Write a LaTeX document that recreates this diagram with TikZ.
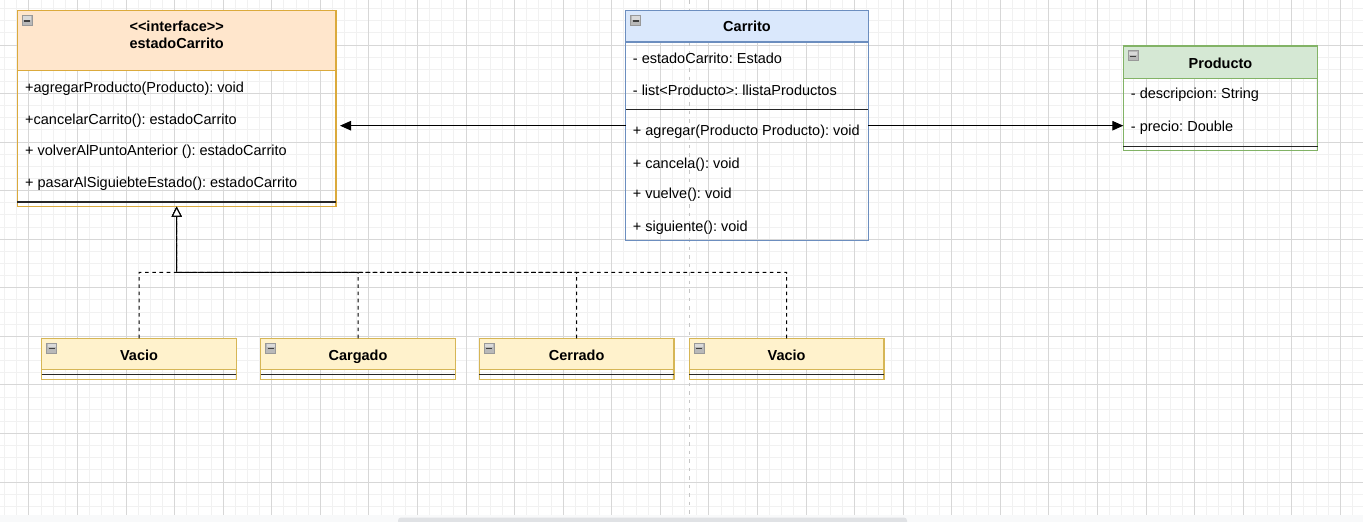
\documentclass[tikz,border=0pt]{standalone}
\usepackage{fontspec}
\setmainfont{Liberation Sans}
\usetikzlibrary{arrows.meta,calc}
\frenchspacing
\definecolor{orgFill}{HTML}{FFE6CC}
\definecolor{ylwFill}{HTML}{FFF2CC}
\definecolor{ylwLine}{HTML}{D6B656}
\definecolor{ifLine}{HTML}{DBAA3C}
\definecolor{bluFill}{HTML}{DAE8FC}
\definecolor{bluLine}{HTML}{6C8EBF}
\definecolor{grnFill}{HTML}{D5E8D4}
\definecolor{grnLine}{HTML}{82B366}
\definecolor{gridMinor}{HTML}{F1F1F1}
\definecolor{gridMajor}{HTML}{D7D7D7}
\definecolor{stripBg}{HTML}{F8F9FA}
\definecolor{scrollBar}{HTML}{E0E2E5}
\begin{document}
\begin{tikzpicture}[x=1pt,y=-1pt,
  font=\fontsize{14.5}{17}\selectfont,
  cls/.style={draw=#1, line width=1.2pt, anchor=north west, inner sep=0pt, outer sep=0pt, rectangle},
  row/.style={anchor=base west, inner sep=0pt},
  ttl/.style={font=\fontsize{14.5}{17}\selectfont\bfseries, anchor=base, inner sep=0pt},
  sepline/.style={line width=1.4pt, black!85},
  impl/.style={black, line width=1pt, dash pattern=on 3.6pt off 3.6pt, -{Triangle[open, length=10pt, width=10pt, fill=white, line width=1pt]}},
  assoc/.style={black, line width=1pt, -{Triangle[length=11pt, width=9.5pt]}},
  clsicon/.pic={
    \fill[gray!55] (0,0) rectangle (10,10);
    \fill[gray!30] (1,1) rectangle (9,4.5);
    \draw[gray!80, line width=0.6pt] (0,0) rectangle (10,10);
    \draw[black!75, line width=1.4pt] (2,5.6) -- (8,5.6);
  }
]
\useasboundingbox (0,0) rectangle (1363,522);
% background grid
\fill[white] (0,0) rectangle (1363,515);
\foreach \i in {-2,...,110} { \draw[gridMinor, line width=1pt] ({28.9+12.1425*\i},0) -- ({28.9+12.1425*\i},515); }
\foreach \j in {-3,...,38} { \draw[gridMinor, line width=1pt] (0,{45+12.1425*\j}) -- (1363,{45+12.1425*\j}); }
\foreach \i in {0,...,27} { \draw[gridMajor, line width=1pt] ({28.9+48.57*\i},0) -- ({28.9+48.57*\i},515); }
\foreach \j in {0,...,9} { \draw[gridMajor, line width=1pt] (0,{45+48.57*\j}) -- (1363,{45+48.57*\j}); }
\fill[stripBg] (0,515) rectangle (1363,522);
\fill[scrollBar, rounded corners=3pt] (398,517.5) rectangle (907,528);
% page break line
\draw[gray!45, line width=1pt, dash pattern=on 3.5pt off 5pt] (689,0) -- (689,515);

% ---- interface estadoCarrito
\fill[orgFill] (17.3,10.7) rectangle (336,70.7);
\node[cls=ifLine, minimum width=318.7pt, minimum height=196pt] (iface) at (17.3,10.7) {};
\draw[ifLine, line width=1.2pt] (17.3,70.7) -- (336,70.7);
\draw[sepline] (17.3,202) -- (336,202);
\pic at (22,15.3) {clsicon};
\node[ttl] (ifst) at (176.7,31) {\textless\kern0pt\textless\kern0pt interface\kern0pt\textgreater\kern0pt\textgreater};
\node[ttl] (ifname) at (176.7,48.5) {estadoCarrito};
\node[row] (ifm1) at (25,92) {+agregarProducto(Producto): void};
\node[row] (ifm2) at (25,124) {+cancelarCarrito(): estadoCarrito};
\node[row] (ifm3) at (25,155.3) {+ volverAlPuntoAnterior (): estadoCarrito};
\node[row] (ifm4) at (25,187) {+ pasarAlSiguiebteEstado(): estadoCarrito};

% ---- Carrito
\fill[bluFill] (625.5,10.7) rectangle (868.3,42);
\node[cls=bluLine, minimum width=242.8pt, minimum height=230pt] (carrito) at (625.5,10.7) {};
\draw[bluLine, line width=1.2pt] (625.5,42) -- (868.3,42);
\draw[sepline] (625.5,109.3) -- (868.3,109.3);
\pic at (630.5,15.3) {clsicon};
\node[ttl] (carname) at (747,31.5) {Carrito};
\node[row] (ca1) at (632.7,63.3) {- estadoCarrito: Estado};
\node[row] (ca2) at (632.7,95) {- list\textless Producto\textgreater: llistaProductos};
\node[row] (cm1) at (632.7,135.7) {+ agregar(Producto Producto): void};
\node[row] (cm2) at (632.7,168.3) {+ cancela(): void};
\node[row] (cm3) at (632.7,198.5) {+ vuelve(): void};
\node[row] (cm4) at (632.7,231) {+ siguiente(): void};

% ---- Producto
\fill[grnFill] (1123.3,46) rectangle (1317.7,78.3);
\node[cls=grnLine, minimum width=194.4pt, minimum height=104.7pt] (producto) at (1123.3,46) {};
\draw[grnLine, line width=1.2pt] (1123.3,78.3) -- (1317.7,78.3);
\draw[sepline] (1123.3,146.7) -- (1317.7,146.7);
\pic at (1128.3,50.6) {clsicon};
\node[ttl] (prodname) at (1220.5,68.2) {Producto};
\node[row] (pa1) at (1130.7,98.5) {- descripcion: String};
\node[row] (pa2) at (1130.7,131) {- precio: Double};

% ---- implementing classes
\foreach \nm/\lx/\txt in {v1/41.7/Vacio, cg/260.7/Cargado, cr/479.3/Cerrado, v2/689.3/Vacio}{
  \fill[ylwFill] (\lx,338.3) rectangle ({\lx+194.7},369.3);
  \node[cls=ylwLine, minimum width=194.7pt, minimum height=41pt] (\nm) at (\lx,338.3) {};
  \draw[ylwLine, line width=1.2pt] (\lx,369.3) -- ({\lx+194.7},369.3);
  \draw[sepline] (\lx,374.3) -- ({\lx+194.7},374.3);
  \pic at ({\lx+5},342.8) {clsicon};
  \node[ttl] (\nm-t) at ({\lx+97.35},360.5) {\txt};
}

% ---- connectors
\coordinate (j) at (176.7,272.3);
\foreach \b in {v1,cg,cr,v2} { \draw[impl] (\b.north) |- (j) -- (iface.south); }
\draw[assoc, shorten >=4pt] (carrito.west) -- (carrito.west -| iface.east);
\draw[assoc] (carrito.east) -- (carrito.east -| producto.west);
\end{tikzpicture}
\end{document}
